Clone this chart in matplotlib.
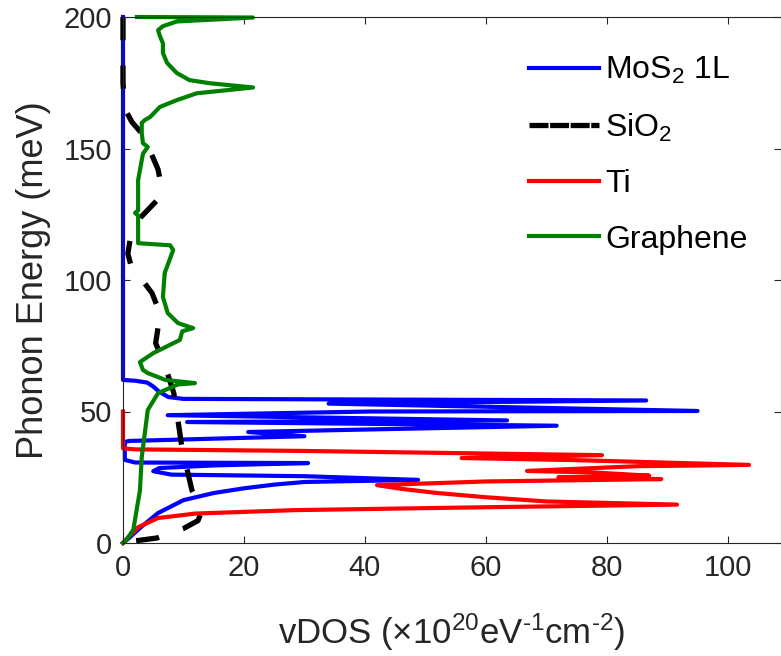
import matplotlib
matplotlib.use("Agg")
import matplotlib.pyplot as plt
from matplotlib.lines import Line2D

plt.rcParams['font.family'] = ['Liberation Sans', 'DejaVu Sans']
plt.rcParams['mathtext.fontset'] = 'custom'
plt.rcParams['mathtext.rm'] = 'Liberation Sans'
plt.rcParams['mathtext.it'] = 'Liberation Sans'
plt.rcParams['mathtext.sf'] = 'Liberation Sans'

# ---- data: (vDOS, energy) pairs ----
mos2_vdos = [0, 0, 2, 4, 5, 6, 7.5, 10, 86.5, 34, 60, 95, 41, 7.4, 63.5, 10.6, 71.7, 37, 20.7,
             30, 1, 0.3, 0.3, 2, 30.6, 15, 6, 5, 8, 30, 48.8, 30, 25, 20, 15, 10, 5.8, 3, 0.8, 0]
mos2_energy = [200, 62, 61.7, 61, 59.5, 57.5, 55.5, 54.8, 54.2, 53.0, 51.8, 50.2, 50.0, 48.6, 46.6,
               46.0, 44.6, 43.0, 42.2, 40.6, 38.8, 38.4, 31.6, 30.6, 30.4, 29.5, 28.5, 27.3, 26.0,
               25.4, 24.0, 23.2, 22.2, 20.8, 19.0, 16.3, 11.4, 6.1, 1.5, 0]

sio2_vdos = [0, 0, 0.3, 1.5, 3, 4.5, 5.8, 6.3, 5.5, 3, 1.3, 0.8, 1.5, 3.5, 4.8, 6.1, 5.8, 5.4,
             7.0, 8.4, 9.0, 9.7, 10.2, 10.7, 11.4, 12.5, 13, 12.4, 10, 7.8, 5.6, 2.3, 0.5, 0]
sio2_energy = [200, 175, 165, 160, 156, 149, 142, 136, 130, 124, 117, 110, 104, 99, 95, 87.5,
               82, 76, 67, 57, 48, 37, 32, 27, 20, 15, 12, 8.5, 5.5, 3.8, 1.9, 0.9, 0.5, 0]

ti_vdos = [0, 0, 2, 30, 79.2, 56, 75, 103.5, 85, 66.8, 78, 87, 72, 89, 60, 42, 46, 52, 60, 70,
           91.6, 60, 28.4, 12, 5.8, 2.5, 0.8, 0]
ti_energy = [50, 36, 35.6, 35.0, 33.4, 32.3, 31.5, 29.7, 29.2, 27.4, 26.8, 25.6, 25.0, 24.3,
             23.4, 22.0, 20.6, 19.0, 17.4, 15.8, 14.6, 13.6, 12.5, 11.2, 9.5, 6.0, 2.0, 0]

gr_vdos = [2.3, 21.5, 8.9, 6.6, 5.8, 6.1, 6.6, 6.6, 7.3, 8.9, 11, 14.4, 21.5, 12.2, 8.9, 6.1,
           4.5, 3.6, 3.1, 3.1, 3.3, 4.1, 3.3, 2.5, 2.5, 2.0, 2.5, 2.5, 7.8, 8.3, 6.9, 6.6,
           7.4, 9.1, 11.6, 9.8, 9.4, 5.0, 2.8, 3.3, 4.1, 7.0, 11.9, 9.1, 5.8, 4.1, 3.1, 2.8,
           1.7, 0.5, 0]
gr_energy = [200, 199.8, 198.3, 196.5, 195, 192.8, 190, 186.3, 182.5, 178.7, 176, 174.8, 173.2,
             171, 168.4, 165.8, 162, 160.8, 159.7, 155.9, 152, 150.6, 148, 138, 126.5, 125.5,
             124.5, 114, 113.2, 111.4, 102.7, 93.5, 87.4, 83.6, 81.7, 80.5, 77.2, 72.2, 68.8,
             65.8, 64.6, 62, 60.8, 60.3, 57, 50.6, 32.7, 20, 5, 1, 0]

labels = ['MoS$_2$ 1L', 'SiO$_2$', 'Ti', 'Graphene']
x_ticks = [0, 20, 40, 60, 80, 100]
y_ticks = [0, 50, 100, 150, 200]

W, H = 781, 656
fig = plt.figure(figsize=(W / 100, H / 100), dpi=100)
ax = fig.add_axes([123 / W, 1 - 543 / H, (781 - 123) / W, (543 - 17) / H])

ax.plot(mos2_vdos, mos2_energy, color='#0000ff', lw=3.0, solid_joinstyle='round', clip_on=False)
ax.plot(sio2_vdos, sio2_energy, color='black', lw=3.8, dashes=(4.4, 4.8), dash_capstyle='butt',
        clip_on=False)
ax.plot(ti_vdos, ti_energy, color='#ff0000', lw=3.0, solid_joinstyle='round', clip_on=False)
ax.plot(gr_vdos, gr_energy, color='#008000', lw=3.0, solid_joinstyle='round', clip_on=False)

ax.set_xlim(0, 108.8)
ax.set_ylim(0, 200)
ax.set_xticks(x_ticks)
ax.set_yticks(y_ticks)
tc = '#262626'
ax.tick_params(direction='in', length=5, width=0.8, top=True, right=True,
               labelsize=21, colors=tc, pad=8)
for s in ax.spines.values():
    s.set_color(tc)
    s.set_linewidth(0.8)

ax.set_xlabel('vDOS ($\\times$10$^{20}$eV$^{\\text{-}1}$cm$^{\\text{-}2}$)', fontsize=25, color=tc,
              labelpad=21)
ax.set_ylabel('Phonon Energy (meV)', fontsize=26, color=tc, labelpad=9)

handles = [Line2D([], [], color='#0000ff', lw=3.0),
           Line2D([], [], color='black', lw=3.8, dashes=(3.6, 0.3)),
           Line2D([], [], color='#ff0000', lw=3.0),
           Line2D([], [], color='#008000', lw=3.0)]
leg = ax.legend(handles, labels, loc='upper left',
                bbox_to_anchor=((516 - 123) / 658, 1 - (42 - 17) / 526),
                frameon=False, fontsize=23, handlelength=2.2, handletextpad=0.2,
                labelspacing=0.8, borderaxespad=0)
for t in leg.get_texts():
    t.set_color('black')

fig.savefig('out.png', dpi=100)
